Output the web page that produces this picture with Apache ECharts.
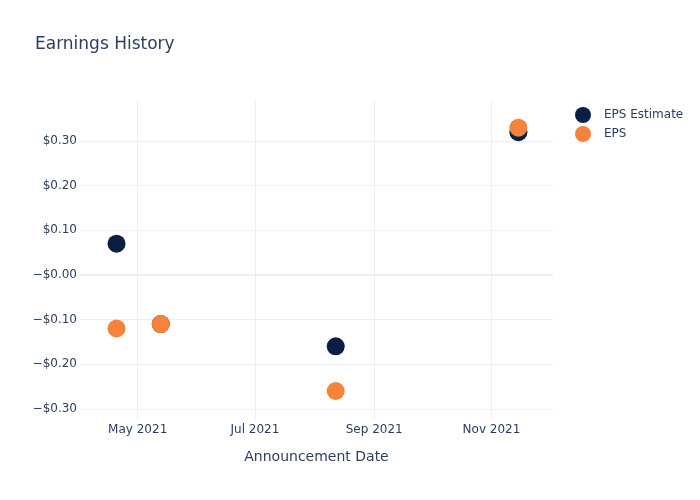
<!DOCTYPE html>
<html>
<head>
<meta charset="utf-8">
<script src="https://cdn.jsdelivr.net/npm/echarts@6/dist/echarts.min.js"></script>
<style>html,body{margin:0;padding:0;background:#fff}#c{width:700px;height:500px}</style>
</head>
<body>
<div id="c"></div>
<script>
const dates = ['2021-04-20', '2021-05-13', '2021-08-12', '2021-11-15'];
const epsEstimate = [0.07, -0.11, -0.16, 0.32];
const eps = [-0.12, -0.11, -0.26, 0.33];
const xTickDates = ['2021-05-01', '2021-07-01', '2021-09-01', '2021-11-01'];
const yTicks = [-0.3, -0.2, -0.1, 0, 0.1, 0.2, 0.3];

const ts = s => { const [y, m, d] = s.split('-').map(Number); return Date.UTC(y, m - 1, d); };
const months = ['Jan','Feb','Mar','Apr','May','Jun','Jul','Aug','Sep','Oct','Nov','Dec'];
const xTicks = xTickDates.map(ts);
const font = 'DejaVu Sans, Verdana, sans-serif';
const txt = '#2a3f5f';
const grid = '#ebf0f8';

const chart = echarts.init(document.getElementById('c'), null, {renderer: 'canvas'});
chart.setOption({
  animation: false,
  backgroundColor: '#fff',
  title: {
    text: 'Earnings History', left: 30, top: 31,
    textStyle: {fontFamily: font, fontSize: 17, fontWeight: 'normal', color: txt}
  },
  legend: {
    orient: 'vertical', left: 570, top: 102, itemGap: 3,
    itemWidth: 16, itemHeight: 16, icon: 'circle',
    textStyle: {fontFamily: font, fontSize: 12, color: txt, padding: [0, 0, 0, 8]},
    data: ['EPS Estimate', 'EPS']
  },
  grid: {left: 80, right: 147, top: 100, bottom: 80},
  xAxis: {
    type: 'value',
    min: ts('2021-04-01'), max: ts('2021-12-03'),
    name: 'Announcement Date', nameLocation: 'middle', nameGap: 30,
    nameTextStyle: {fontFamily: font, fontSize: 14, color: txt},
    axisLine: {show: false},
    axisTick: {show: false, customValues: xTicks},
    axisLabel: {
      customValues: xTicks, margin: 4,
      fontFamily: font, fontSize: 12, color: txt,
      formatter: v => { const d = new Date(v); return months[d.getUTCMonth()] + ' ' + d.getUTCFullYear(); }
    },
    splitLine: {show: true, lineStyle: {color: grid, width: 1}}
  },
  yAxis: {
    type: 'value', min: -0.325, max: 0.392,
    axisLine: {show: false},
    axisTick: {show: false, customValues: yTicks},
    axisLabel: {
      customValues: yTicks, margin: 3,
      fontFamily: font, fontSize: 12, color: txt,
      formatter: v => { const r = Math.round(v * 100) / 100; return (r <= 0 ? '\u2212$' : '$') + Math.abs(r).toFixed(2); }
    },
    splitLine: {show: true, lineStyle: {color: grid, width: 1}}
  },
  series: [
    {
      name: 'EPS Estimate', type: 'scatter', symbolSize: 18,
      itemStyle: {color: '#0b1f44', opacity: 1},
      data: dates.map((d, i) => [ts(d), epsEstimate[i]]),
      markLine: {
        silent: true, symbol: 'none', label: {show: false},
        lineStyle: {color: grid, width: 2, type: 'solid'},
        data: [{yAxis: 0}]
      },
      z: 2
    },
    {
      name: 'EPS', type: 'scatter', symbolSize: 18,
      itemStyle: {color: '#f7823a', opacity: 1},
      data: dates.map((d, i) => [ts(d), eps[i]]),
      z: 3
    }
  ]
});
</script>
</body>
</html>
